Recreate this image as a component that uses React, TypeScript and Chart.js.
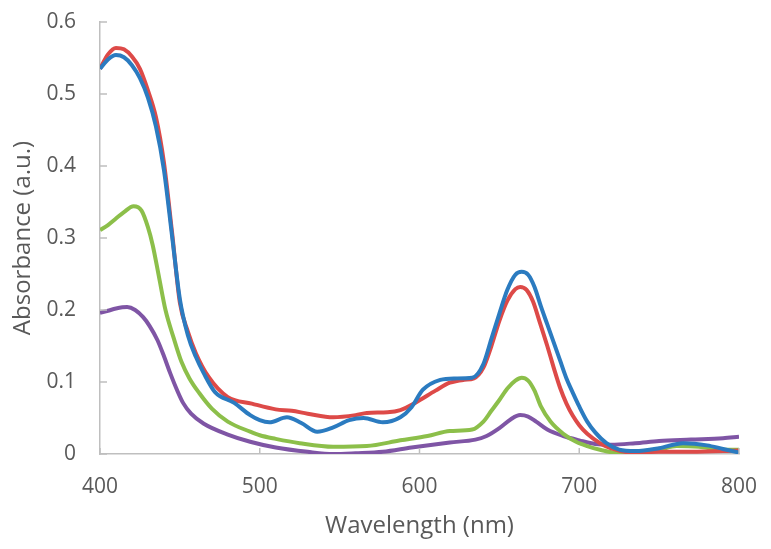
import React, { useEffect, useRef } from "react";
import { Chart, registerables } from "chart.js";

Chart.register(...registerables);

// Wavelength (nm) / absorbance (a.u.) per series
const blueWl = [400,405,410,415,420,425,430,435,440,445,450,455,460,465,472,484,494,500,506,517,526,536,546,556,565,577,588,595,602,613,622,633,640,645,650,655,660,664,668,672,676,680,684,688,692,696,700,705,710,717,725,735,750,765,780,790,800];
const blueAbs = [0.535,0.548,0.554,0.551,0.540,0.522,0.495,0.455,0.395,0.305,0.215,0.165,0.135,0.112,0.086,0.071,0.054,0.047,0.044,0.051,0.043,0.031,0.037,0.047,0.050,0.044,0.051,0.065,0.089,0.103,0.105,0.106,0.125,0.160,0.195,0.228,0.249,0.253,0.249,0.232,0.205,0.180,0.155,0.130,0.105,0.085,0.066,0.045,0.030,0.015,0.006,0.004,0.008,0.015,0.012,0.007,0.002];

const redWl = [400,405,410,415,420,425,430,435,440,445,450,455,460,468,480,495,510,520,530,546,560,567,580,588,598,610,619,628,634,640,645,650,655,660,663,667,671,675,680,684,688,692,696,700,705,713,720,733,750,770,790,800];
const redAbs = [0.535,0.555,0.564,0.562,0.552,0.535,0.505,0.468,0.405,0.310,0.210,0.170,0.140,0.107,0.079,0.070,0.062,0.060,0.056,0.051,0.054,0.057,0.058,0.061,0.072,0.088,0.099,0.103,0.105,0.120,0.150,0.185,0.213,0.229,0.232,0.228,0.212,0.185,0.150,0.120,0.092,0.070,0.053,0.040,0.028,0.015,0.008,0.002,0.003,0.003,0.004,0.005];

const greenWl = [400,405,410,415,421,426,430,433,437,441,446,451,456,462,470,480,494,500,510,525,546,567,588,605,619,633,640,645,650,655,660,664,668,672,676,682,690,698,705,713,725,735,750,761,775,790,800];
const greenAbs = [0.311,0.318,0.327,0.336,0.344,0.338,0.315,0.290,0.245,0.200,0.162,0.128,0.105,0.085,0.063,0.045,0.031,0.026,0.021,0.015,0.010,0.011,0.019,0.025,0.032,0.034,0.045,0.060,0.075,0.091,0.102,0.106,0.102,0.088,0.066,0.045,0.028,0.017,0.011,0.006,0.001,0.002,0.006,0.011,0.010,0.006,0.006];

const purpleWl = [400,405,410,417,422,427,431,436,440,444,448,452,457,465,480,494,510,530,546,560,577,595,619,635,642,650,657,663,668,673,680,690,700,710,720,735,750,770,790,800];
const purpleAbs = [0.196,0.199,0.202,0.204,0.200,0.190,0.178,0.158,0.136,0.112,0.090,0.071,0.056,0.042,0.027,0.017,0.009,0.003,0.000,0.001,0.003,0.009,0.016,0.020,0.025,0.036,0.048,0.054,0.052,0.045,0.034,0.025,0.019,0.014,0.013,0.015,0.018,0.020,0.022,0.024];

const xTicks = [400, 500, 600, 700, 800];
const yTicks = [0, 0.1, 0.2, 0.3, 0.4, 0.5, 0.6];

const toPoints = (xs: number[], ys: number[]) => xs.map((x, i) => ({ x, y: ys[i] }));

const TEXT = "#595959";
const AXIS = "#bfbfbf";

const innerTicks = {
  id: "innerTicks",
  afterDatasetsDraw(chart: any) {
    const { ctx, scales } = chart;
    const xs = scales.x;
    const ys = scales.y;
    ctx.save();
    ctx.strokeStyle = AXIS;
    ctx.lineWidth = 1.5;
    ctx.beginPath();
    xTicks.forEach((v) => {
      const px = xs.getPixelForValue(v);
      ctx.moveTo(px, ys.bottom);
      ctx.lineTo(px, ys.bottom - 6);
    });
    yTicks.forEach((v) => {
      const py = ys.getPixelForValue(v);
      ctx.moveTo(xs.left, py);
      ctx.lineTo(xs.left + 7, py);
    });
    ctx.stroke();
    ctx.restore();
  },
};

const zeroPad = (s: any) => {
  s.paddingTop = 0;
  s.paddingBottom = 0;
  s.paddingLeft = 0;
  s.paddingRight = 0;
};

export default function App() {
  const ref = useRef<HTMLCanvasElement | null>(null);
  useEffect(() => {
    if (!ref.current) return;
    const family = "'Open Sans', 'Noto Sans', sans-serif";
    const tickFont = { family, size: 21 };
    const titleFont = { family, size: 24 };
    const mk = (label: string, xs: number[], ys: number[], color: string) => ({
      label,
      data: toPoints(xs, ys),
      borderColor: color,
      backgroundColor: color,
      borderWidth: 4,
      pointRadius: 0,
      tension: 0.4,
      cubicInterpolationMode: "monotone" as const,
    });
    const chart = new Chart(ref.current, {
      type: "line",
      data: {
        datasets: [
          mk("Blue", blueWl, blueAbs, "#2B7BC0"),
          mk("Red", redWl, redAbs, "#DD4A48"),
          mk("Green", greenWl, greenAbs, "#8CBF4A"),
          mk("Purple", purpleWl, purpleAbs, "#7F55A5"),
        ],
      },
      options: {
        animation: false,
        responsive: false,
        maintainAspectRatio: false,
        layout: { padding: { top: 22, right: 32, left: 0, bottom: 0 } },
        plugins: { legend: { display: false }, tooltip: { enabled: false } },
        scales: {
          x: {
            type: "linear",
            min: 400,
            max: 800,
            afterBuildTicks: (s: any) => {
              s.ticks = xTicks.map((v) => ({ value: v }));
            },
            afterFit: (s: any) => {
              s.height = 95;
              zeroPad(s);
            },
            grid: { display: false, drawTicks: false },
            border: { display: true, color: AXIS, width: 1.5 },
            ticks: { color: TEXT, font: tickFont, padding: 20, maxRotation: 0 },
            title: {
              display: true,
              text: "Wavelength (nm)",
              color: TEXT,
              font: titleFont,
              padding: { top: 0, bottom: 8 },
            },
          },
          y: {
            type: "linear",
            min: 0,
            max: 0.6,
            afterBuildTicks: (s: any) => {
              s.ticks = yTicks.map((v) => ({ value: v }));
            },
            afterFit: (s: any) => {
              s.width = 100;
              zeroPad(s);
            },
            grid: { display: false, drawTicks: false },
            border: { display: true, color: AXIS, width: 1.5 },
            ticks: {
              color: TEXT,
              font: tickFont,
              padding: 24,
              callback: (v: any) => (v === 0 ? "0" : Number(v).toFixed(1)),
            },
            title: {
              display: true,
              text: "Absorbance (a.u.)",
              color: TEXT,
              font: titleFont,
              padding: { top: 9, bottom: 0 },
            },
          },
        },
      },
      plugins: [innerTicks],
    });
    return () => chart.destroy();
  }, []);
  return (
    <div style={{ position: "fixed", left: 0, top: 0, width: 771, height: 549, background: "#fff" }}>
      <canvas ref={ref} width={771} height={549} style={{ width: 771, height: 549 }} />
    </div>
  );
}
